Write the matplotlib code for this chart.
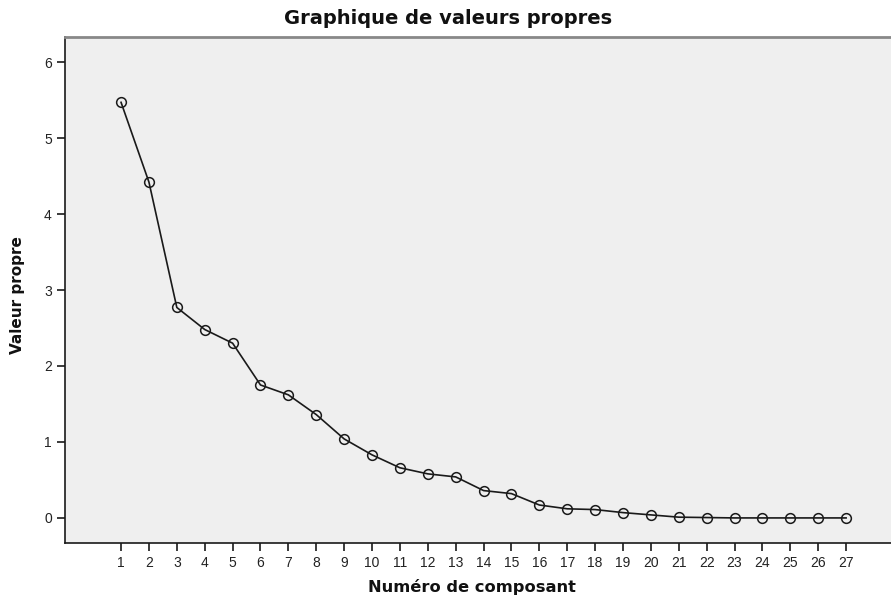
import matplotlib
matplotlib.use("Agg")
import matplotlib.pyplot as plt

components = list(range(1, 28))
eigenvalues = [5.47, 4.42, 2.77, 2.48, 2.30, 1.75, 1.62, 1.36, 1.04, 0.83,
               0.66, 0.58, 0.54, 0.36, 0.32, 0.17, 0.12, 0.11, 0.07, 0.04,
               0.01, 0.005, 0.0, 0.0, 0.0, 0.0, 0.0]
yticks = [0, 1, 2, 3, 4, 5, 6]

plt.rcParams['font.family'] = ['Liberation Sans', 'DejaVu Sans']

fig = plt.figure(figsize=(8.91, 5.98), dpi=100)
ax = fig.add_axes([65/891, 55/598, 1 - 65/891, (543-37)/598])
ax.set_facecolor('#efefef')

ax.plot(components, eigenvalues, color='#1a1a1a', linewidth=1.2,
        marker='o', markersize=7, markerfacecolor='none',
        markeredgecolor='#1a1a1a', markeredgewidth=1.1)

ax.set_xlim(-1.01, 28.61)
ax.set_ylim(-0.33, 6.33)
ax.set_xticks(components)
ax.set_xticklabels([str(c) for c in components], family='Liberation Sans')
ax.set_yticks(yticks)
ax.set_yticklabels([str(v) for v in yticks], family='Liberation Sans')

ax.spines['right'].set_visible(False)
ax.spines['top'].set_color('#888888')
ax.spines['top'].set_linewidth(2)
ax.spines['left'].set_color('#1a1a1a')
ax.spines['bottom'].set_color('#1a1a1a')
ax.spines['left'].set_linewidth(1.2)
ax.spines['bottom'].set_linewidth(1.2)

ax.tick_params(axis='both', direction='out', length=6, width=1.2,
               color='#1a1a1a', labelsize=10, labelcolor='#222222')

bold_font = ['DejaVu Sans']
fig.text(448/891, 1 - 18/598, 'Graphique de valeurs propres', fontsize=14,
         fontweight='bold', ha='center', va='center', color='#111111',
         family=bold_font)
fig.text(472/891, 1 - 587/598, 'Numéro de composant', fontsize=11.7,
         fontweight='bold', ha='center', va='center', color='#111111',
         family=bold_font)
fig.text(18/891, 1 - 295/598, 'Valeur propre', fontsize=11, rotation=90,
         fontweight='bold', ha='center', va='center', color='#111111',
         family=bold_font)

fig.savefig('out.png', dpi=100)
